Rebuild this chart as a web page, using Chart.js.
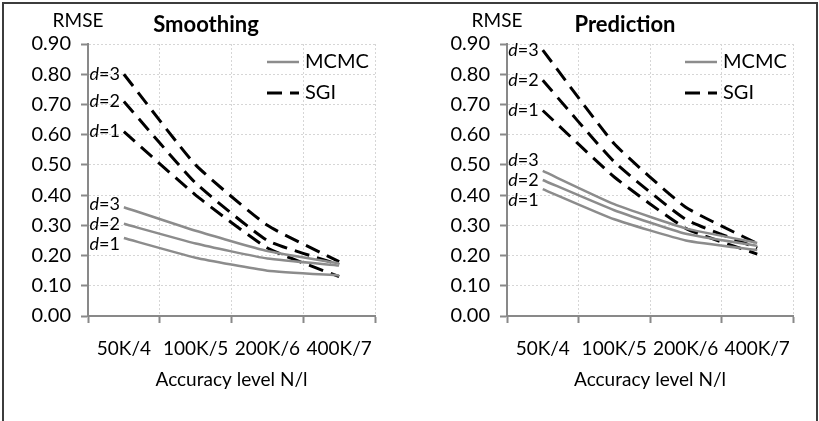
<!DOCTYPE html>
<html>
<head>
<meta charset="utf-8">
<script src="https://cdn.jsdelivr.net/npm/chart.js@4.4.0/dist/chart.umd.min.js"></script>
<style>
  body { margin: 0; background: #fff; }
  #wrap { position: relative; width: 819px; height: 421px; overflow: hidden; background: #fff; }
  #frame { position: absolute; left: 2px; top: 2px; width: 812px; height: 440px; border: 2px solid #3c3c3c; pointer-events: none; }
  canvas { position: absolute; top: 0; }
  #smoothing { left: 0; }
  #prediction { left: 410px; }
</style>
</head>
<body>
<div id="wrap">
  <canvas id="smoothing" width="410" height="421"></canvas>
  <canvas id="prediction" width="409" height="421"></canvas>
  <div id="frame"></div>
</div>
<script>
// categories (accuracy level N/l)
const levels = ['50K/4', '100K/5', '200K/6', '400K/7'];
const dims = [1, 2, 3];

// Smoothing RMSE
const smoothMcmc = [
  [0.258, 0.193, 0.150, 0.134],   // d=1
  [0.305, 0.240, 0.190, 0.167],   // d=2
  [0.360, 0.282, 0.215, 0.174]    // d=3
];
const smoothSgi = [
  [0.61, 0.40, 0.225, 0.13],
  [0.71, 0.44, 0.25, 0.17],
  [0.80, 0.50, 0.30, 0.18]
];

// Prediction RMSE
const predMcmc = [
  [0.42, 0.32, 0.25, 0.218],
  [0.45, 0.35, 0.272, 0.232],
  [0.48, 0.37, 0.29, 0.242]
];
const predSgi = [
  [0.68, 0.46, 0.29, 0.205],
  [0.78, 0.51, 0.32, 0.225],
  [0.88, 0.57, 0.36, 0.24]
];

const FONT = 'Lato, "Open Sans", sans-serif';
const GRAY = '#8c8c8c';
Chart.defaults.font.family = FONT;
Chart.defaults.color = '#000';

function buildDatasets(mcmc, sgi) {
  const out = [];
  mcmc.forEach((vals, i) => out.push({
    label: 'MCMC', dim: dims[i], data: vals,
    borderColor: GRAY, borderWidth: 2.5, pointRadius: 0, tension: 0.15
  }));
  sgi.forEach((vals, i) => out.push({
    label: 'SGI', dim: dims[i], data: vals,
    borderColor: '#000', borderWidth: 3, borderDash: [15, 8], pointRadius: 0, tension: 0.15
  }));
  return out;
}

// title, RMSE label, d= labels and the legend inside the plot
const annotate = {
  id: 'annotate',
  afterDatasetsDraw(chart, args, opts) {
    const {ctx, chartArea} = chart;
    ctx.save();
    ctx.fillStyle = '#000';
    ctx.textBaseline = 'middle';

    ctx.textAlign = 'center';
    ctx.font = 'bold 22px ' + FONT;
    ctx.fillText(opts.title, chartArea.left + 118, 25);
    ctx.font = '19px ' + FONT;
    ctx.fillText('RMSE', chartArea.left - 10, 21);

    // d labels left of first point, spread a bit when crowded
    ['MCMC', 'SGI'].forEach(kind => {
      const items = [];
      chart.data.datasets.forEach((ds, i) => {
        if (ds.label !== kind) return;
        const pt = chart.getDatasetMeta(i).data[0];
        items.push({dim: ds.dim, x: pt.x, y: pt.y});
      });
      items.sort((a, b) => a.y - b.y);
      if (items.length === 3) {
        const gap = 20;
        if (items[1].y - items[0].y < gap) items[0].y = items[1].y - gap;
        if (items[2].y - items[1].y < gap) items[2].y = items[1].y + gap;
      }
      items.forEach(it => {
        ctx.font = '18px ' + FONT;
        const rest = '=' + it.dim;
        const wr = ctx.measureText(rest).width;
        ctx.font = 'italic 18px ' + FONT;
        const wd = ctx.measureText('d').width;
        const xr = it.x - 4;
        ctx.textAlign = 'left';
        ctx.fillText('d', xr - wr - wd, it.y);
        ctx.font = '18px ' + FONT;
        ctx.fillText(rest, xr - wr, it.y);
      });
    });

    // legend
    const entries = [
      {text: 'MCMC', color: GRAY, width: 2.5, dash: []},
      {text: 'SGI', color: '#000', width: 3, dash: [15, 8]}
    ];
    entries.forEach((e, k) => {
      const y = chartArea.top + 18 + k * 31;
      const x0 = chartArea.right - 108;
      ctx.beginPath();
      ctx.setLineDash(e.dash);
      ctx.strokeStyle = e.color;
      ctx.lineWidth = e.width;
      ctx.moveTo(x0, y);
      ctx.lineTo(x0 + 32, y);
      ctx.stroke();
      ctx.setLineDash([]);
      ctx.textAlign = 'left';
      ctx.font = '20px ' + FONT;
      ctx.fillText(e.text, chartArea.right - 70, y);
    });
    ctx.restore();
  }
};

function makeChart(id, title, mcmc, sgi, yWidth, padRight) {
  const axisColor = '#898989';
  const gridColor = '#d6d6d6';
  return new Chart(document.getElementById(id), {
    type: 'line',
    data: {labels: levels, datasets: buildDatasets(mcmc, sgi)},
    options: {
      responsive: false,
      animation: false,
      devicePixelRatio: 1,
      layout: {padding: {top: 44, right: padRight, left: 0, bottom: 0}},
      plugins: {
        legend: {display: false},
        tooltip: {enabled: false},
        annotate: {title: title}
      },
      scales: {
        x: {
          type: 'category',
          offset: true,
          grid: {offset: true, color: gridColor, lineWidth: 1, tickColor: axisColor, tickWidth: 2, tickLength: 7},
          border: {color: axisColor, width: 2, dash: [2, 2]},
          ticks: {color: '#000', font: {size: 19}, padding: 14, maxRotation: 0, autoSkip: false},
          title: {display: true, text: 'Accuracy level N/l', color: '#000', font: {size: 19}, padding: {top: 0, bottom: 30}},
          afterFit: s => { s.height = 105; }
        },
        y: {
          min: 0,
          max: 0.9,
          grid: {color: gridColor, lineWidth: 1, tickColor: axisColor, tickWidth: 2, tickLength: 7},
          border: {color: axisColor, width: 2, dash: [2, 2]},
          ticks: {stepSize: 0.1, color: '#000', font: {size: 20}, padding: 10, callback: v => v.toFixed(2)},
          afterFit: s => { s.width = yWidth; }
        }
      }
    },
    plugins: [annotate]
  });
}

makeChart('smoothing', 'Smoothing', smoothMcmc, smoothSgi, 88, 35);
makeChart('prediction', 'Prediction', predMcmc, predSgi, 97, 26);
</script>
</body>
</html>
